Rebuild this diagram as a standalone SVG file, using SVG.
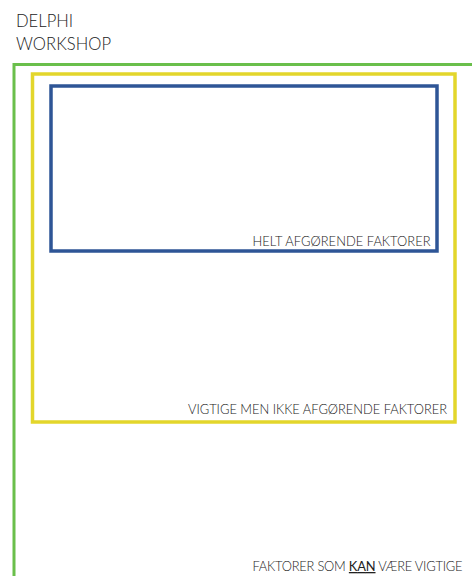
<svg xmlns="http://www.w3.org/2000/svg" width="472" height="576" viewBox="0 0 472 576">
<style>
text{font-family:Lato,"Noto Sans","Liberation Sans",sans-serif;fill:#222;font-weight:300}
.t{font-size:16.6px}
.l{font-size:12.9px;text-anchor:end}
.box{fill:none}
</style>
<rect width="472" height="576" fill="#fff"/>
<g id="title">
<text class="t" x="16" y="27.3">DELPHI</text>
<text class="t" x="16" y="50" textLength="95">WORKSHOP</text>
</g>
<g id="outer">
<path class="box" d="M14,576 V64.5 H472" stroke="#6abf4b" stroke-width="3"/>
<text class="l" x="462.5" y="571" textLength="210">FAKTORER SOM <tspan font-weight="400" text-decoration="underline">KAN</tspan> VÆRE VIGTIGE</text>
</g>
<g id="middle">
<rect class="box" x="32.5" y="74" width="422.5" height="348" stroke="#e3d62b" stroke-width="3.5"/>
<text class="l" x="447" y="413.5" textLength="259">VIGTIGE MEN IKKE AFGØRENDE FAKTORER</text>
</g>
<g id="inner">
<rect class="box" x="51" y="86" width="386" height="165" stroke="#2e5596" stroke-width="3.5"/>
<text class="l" x="430.5" y="246" textLength="178">HELT AFGØRENDE FAKTORER</text>
</g>
<g id="connectors"></g>
</svg>
